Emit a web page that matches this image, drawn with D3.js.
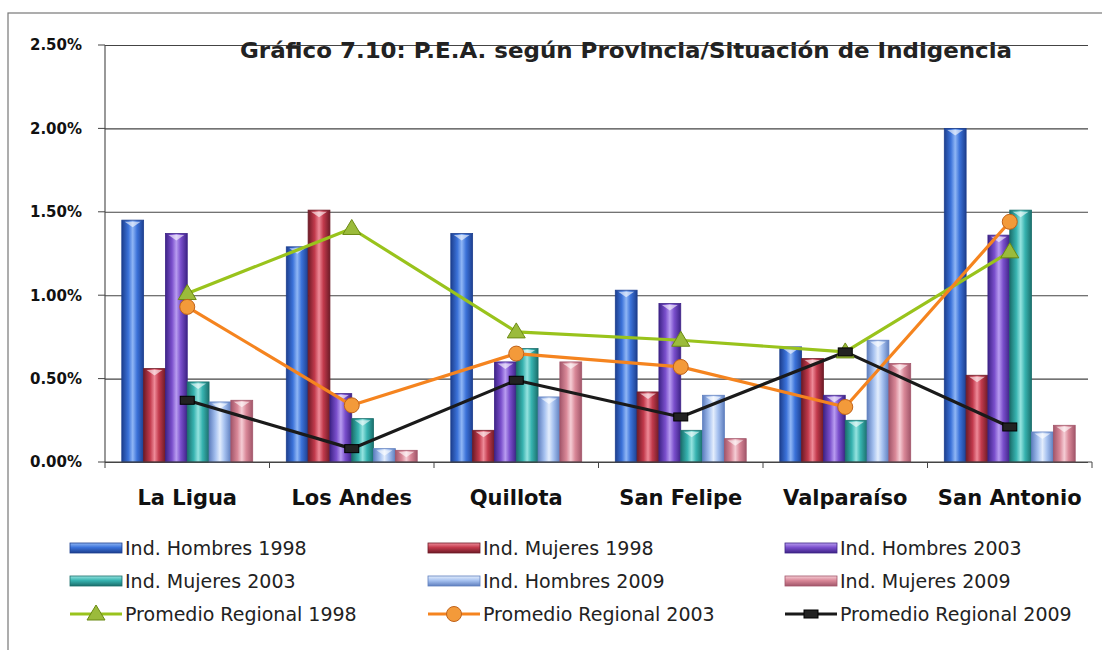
<!DOCTYPE html>
<html>
<head>
<meta charset="utf-8">
<script src="https://cdn.jsdelivr.net/npm/d3@7"></script>
<style>
    body { margin: 0; background: #fff; }
    svg { display: block; }
</style>
</head>
<body>
<svg id="chart"></svg>
<script>
// data (values in %)
let provincias = ['La Ligua', 'Los Andes', 'Quillota', 'San Felipe', 'Valparaíso', 'San Antonio'];
let barSeries = ['Ind. Hombres 1998', 'Ind. Mujeres 1998', 'Ind. Hombres 2003',
    'Ind. Mujeres 2003', 'Ind. Hombres 2009', 'Ind. Mujeres 2009'];
let hombres1998 = [1.45, 1.29, 1.37, 1.03, 0.69, 2.00];
let mujeres1998 = [0.56, 1.51, 0.19, 0.42, 0.62, 0.52];
let hombres2003 = [1.37, 0.41, 0.60, 0.95, 0.40, 1.36];
let mujeres2003 = [0.48, 0.26, 0.68, 0.19, 0.25, 1.51];
let hombres2009 = [0.36, 0.08, 0.39, 0.40, 0.73, 0.18];
let mujeres2009 = [0.37, 0.07, 0.60, 0.14, 0.59, 0.22];
let lineSeries = ['Promedio Regional 1998', 'Promedio Regional 2003', 'Promedio Regional 2009'];
let promedio1998 = [1.01, 1.40, 0.78, 0.73, 0.66, 1.26];
let promedio2003 = [0.93, 0.34, 0.65, 0.57, 0.33, 1.44];
let promedio2009 = [0.37, 0.08, 0.49, 0.27, 0.66, 0.21];
let yTicks = [0, 0.5, 1.0, 1.5, 2.0, 2.5];
let titulo = 'Gráfico 7.10: P.E.A. según Provincia/Situación de Indigencia';

let barValues = [hombres1998, mujeres1998, hombres2003, mujeres2003, hombres2009, mujeres2009];
let lineValues = [promedio1998, promedio2003, promedio2009];

// colors: [base, light, dark]
let barColors = [
    ['#3b72d9', '#8fb6f5', '#1d3f8f'],
    ['#c23a4c', '#ee8a98', '#6e1b27'],
    ['#7a4fcc', '#b89cf0', '#3e2387'],
    ['#37b3b0', '#95e3df', '#1b6f6c'],
    ['#a7c2f0', '#e3edfc', '#5f7fbf'],
    ['#d98898', '#f5cdd5', '#a2566a']
];
let lineColors = ['#99c31c', '#f5841f', '#1a1a1a'];
let markerFill = ['#9bbb3b', '#f39a3a', '#222'];

let W = 1102, H = 650;
let margin = {top: 45, left: 105};
let plotRight = 1092;

let svg = d3.select('#chart').attr('width', W).attr('height', H);

// outer frame
svg.append('rect')
    .attr('x', 8).attr('y', 13)
    .attr('width', W + 20).attr('height', H + 20)
    .attr('fill', 'none').attr('stroke', '#777').attr('stroke-width', 1.2);

let defs = svg.append('defs');
barColors.forEach((c, i) => {
    let g = defs.append('linearGradient').attr('id', 'grad' + i)
        .attr('x1', 0).attr('x2', 1).attr('y1', 0).attr('y2', 0);
    g.append('stop').attr('offset', '0%').attr('stop-color', c[2]);
    g.append('stop').attr('offset', '30%').attr('stop-color', c[0]);
    g.append('stop').attr('offset', '50%').attr('stop-color', c[1]);
    g.append('stop').attr('offset', '70%').attr('stop-color', c[0]);
    g.append('stop').attr('offset', '100%').attr('stop-color', c[2]);
});

let x0 = d3.scaleBand().domain(provincias).range([margin.left, plotRight]);
let x1 = d3.scaleBand().domain(barSeries).range([0, x0.bandwidth()]).paddingOuter(0.77);
let y = d3.scaleLinear().domain([0, 2.5]).range([462, 45]);

// gridlines + y axis
let yAx = d3.axisLeft(y)
    .tickValues(yTicks)
    .tickFormat(d => d.toFixed(2) + '%')
    .tickSize(-(1088 - margin.left))
    .tickPadding(23);
let yAxGroup = svg.append('g')
    .attr('transform', `translate(${margin.left},0)`)
    .call(yAx);
yAxGroup.select('.domain').remove();
yAxGroup.selectAll('.tick line').attr('stroke', '#444').attr('stroke-width', 1.1);
yAxGroup.selectAll('.tick text')
    .attr('font-family', 'DejaVu Sans')
    .attr('font-weight', 'bold')
    .attr('font-size', 15)
    .attr('fill', '#111');
// small outer ticks
svg.append('g').selectAll('line').data(yTicks).join('line')
    .attr('x1', margin.left - 7).attr('x2', margin.left)
    .attr('y1', d => y(d)).attr('y2', d => y(d))
    .attr('stroke', '#444');
svg.append('line')
    .attr('x1', margin.left).attr('x2', margin.left)
    .attr('y1', y(2.5)).attr('y2', y(0))
    .attr('stroke', '#444').attr('stroke-width', 1.1);

// bars
let groups = svg.append('g').selectAll('g')
    .data(provincias).join('g')
    .attr('transform', d => `translate(${x0(d)},0)`);
barSeries.forEach((s, si) => {
    groups.append('rect')
        .attr('x', x1(s))
        .attr('y', (d, i) => y(barValues[si][i]))
        .attr('width', x1.bandwidth())
        .attr('height', (d, i) => y(0) - y(barValues[si][i]))
        .attr('fill', `url(#grad${si})`)
        .attr('stroke', barColors[si][2])
        .attr('stroke-width', 0.8);
    groups.append('path')
        .attr('d', (d, i) => {
            let bx = x1(s), by = y(barValues[si][i]), bw = x1.bandwidth();
            return `M${bx + 3},${by + 1.5} L${bx + bw - 3},${by + 1.5} L${bx + bw / 2},${by + 7} Z`;
        })
        .attr('fill', '#fff').attr('opacity', 0.6);
});

// x axis
svg.append('line')
    .attr('x1', margin.left).attr('x2', 1092)
    .attr('y1', y(0)).attr('y2', y(0))
    .attr('stroke', '#444').attr('stroke-width', 1.2);
svg.append('g').selectAll('line')
    .data(provincias.concat(['end'])).join('line')
    .attr('x1', (d, i) => margin.left + i * x0.step())
    .attr('x2', (d, i) => margin.left + i * x0.step())
    .attr('y1', y(0)).attr('y2', y(0) + 6)
    .attr('stroke', '#444');
svg.append('g').selectAll('text')
    .data(provincias).join('text')
    .attr('x', d => x0(d) + x0.bandwidth() / 2)
    .attr('y', 505)
    .attr('text-anchor', 'middle')
    .attr('font-family', 'DejaVu Sans')
    .attr('font-weight', 'bold')
    .attr('font-size', 21)
    .attr('fill', '#111')
    .text(d => d);

// lines
let cx = d => x0(d) + x0.bandwidth() / 2;
lineValues.forEach((vals, li) => {
    let line = d3.line()
        .x((d, i) => cx(provincias[i]))
        .y(d => y(d));
    svg.append('path')
        .datum(vals)
        .attr('d', line)
        .attr('fill', 'none')
        .attr('stroke', lineColors[li])
        .attr('stroke-width', 3.2)
        .attr('stroke-linejoin', 'round');
});

function drawMarker(sel, li, px, py) {
    if (li === 0) {
        sel.append('path')
            .attr('d', `M${px},${py - 9} L${px + 9},${py + 6} L${px - 9},${py + 6} Z`)
            .attr('fill', markerFill[0]).attr('stroke', '#6b8a14').attr('stroke-width', 1);
    } else if (li === 1) {
        sel.append('circle')
            .attr('cx', px).attr('cy', py).attr('r', 7.5)
            .attr('fill', markerFill[1]).attr('stroke', '#c0621a').attr('stroke-width', 1);
    } else {
        sel.append('rect')
            .attr('x', px - 7).attr('y', py - 4).attr('width', 14).attr('height', 8)
            .attr('fill', markerFill[2]).attr('stroke', '#000');
    }
}

lineValues.forEach((vals, li) => {
    let g = svg.append('g');
    vals.forEach((v, i) => drawMarker(g, li, cx(provincias[i]), y(v)));
});

// title
svg.append('text')
    .attr('x', 626).attr('y', 58)
    .attr('text-anchor', 'middle')
    .attr('font-family', 'DejaVu Sans')
    .attr('font-weight', 'bold')
    .attr('font-size', 21)
    .attr('textLength', 772)
    .attr('lengthAdjust', 'spacingAndGlyphs')
    .attr('fill', '#222')
    .text(titulo);

// legend
let colX = [70, 428, 785];
let rowY = [548, 581, 614];
let legendItems = barSeries.map((s, i) => ({name: s, type: 'bar', idx: i}))
    .concat(lineSeries.map((s, i) => ({name: s, type: 'line', idx: i})));
let legend = svg.append('g');
legendItems.forEach((it, k) => {
    let lx = colX[k % 3], ly = rowY[Math.floor(k / 3)];
    let g = legend.append('g');
    if (it.type === 'bar') {
        let lg = defs.append('linearGradient').attr('id', 'lgrad' + it.idx)
            .attr('x1', 0).attr('x2', 0).attr('y1', 0).attr('y2', 1);
        let c = barColors[it.idx];
        lg.append('stop').attr('offset', '0%').attr('stop-color', c[1]);
        lg.append('stop').attr('offset', '45%').attr('stop-color', c[0]);
        lg.append('stop').attr('offset', '100%').attr('stop-color', c[2]);
        g.append('rect')
            .attr('x', lx).attr('y', ly - 5).attr('width', 52).attr('height', 10)
            .attr('fill', `url(#lgrad${it.idx})`)
            .attr('stroke', c[2]).attr('stroke-width', 0.8);
    } else {
        g.append('line')
            .attr('x1', lx).attr('x2', lx + 52)
            .attr('y1', ly).attr('y2', ly)
            .attr('stroke', lineColors[it.idx]).attr('stroke-width', 3.2);
        drawMarker(g, it.idx, lx + 26, ly);
    }
    g.append('text')
        .attr('x', lx + 55).attr('y', ly + 7)
        .attr('font-family', 'DejaVu Sans')
        .attr('font-size', 19)
        .attr('fill', '#222')
        .text(it.name);
});
</script>
</body>
</html>
